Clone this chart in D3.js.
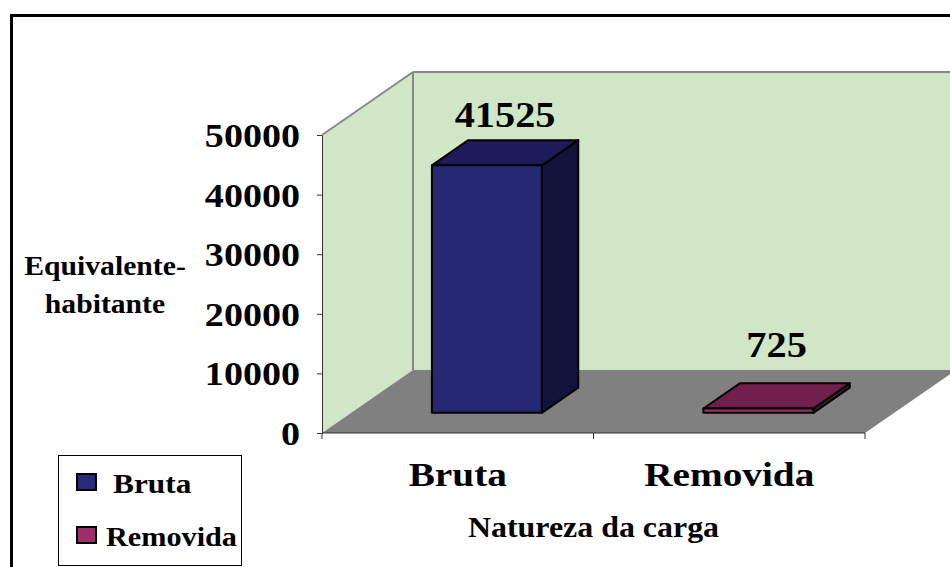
<!DOCTYPE html>
<html>
<head>
<meta charset="utf-8">
<script src="https://cdn.jsdelivr.net/npm/d3@7"></script>
<style>
  body { margin: 0; background: #fff; }
  svg text { font-family: "Liberation Serif", "Times New Roman", serif; font-weight: bold; fill: #000; }
</style>
</head>
<body>
<div class="chart"></div>
<script>
// data
var categories = ["Bruta", "Removida"];
var values = [41525, 725];
var yTicks = [0, 10000, 20000, 30000, 40000, 50000];

var frontColors = ["#262873", "#9c2d68"];
var topColors = ["#1d1c5a", "#70204a"];
var sideColors = ["#12123c", "#4e1632"];
var legendColors = ["#2a2a7a", "#9a3068"];

var width = 950, height = 567;
var depth = {dx: 91, dy: -63};     // depth of the 3d box
var barDepth = [0.32, 0.72];       // bar front / back as a fraction of the depth
var stretch = 1.12;                // text in the reference is a bit wide

var svg = d3.select(".chart").append("svg")
    .attr("width", width)
    .attr("height", height);

var x = d3.scaleBand().domain(categories).range([322, 865]).padding(0);
var y = d3.scaleLinear().domain([0, 50000]).range([433, 135]);

var x0 = x.range()[0], x1 = x.range()[1];
var yTop = y(50000), yBase = y(0);

//outer frame
svg.append("rect")
   .attr("x", 11.5).attr("y", 15.5)
   .attr("width", 1000).attr("height", 700)
   .attr("fill", "none").attr("stroke", "#000").attr("stroke-width", 3);

var pt = function(px, py, f) { return [px + depth.dx * f, py + depth.dy * f]; };
var poly = function(points) { return points.map(function(p) { return p.join(","); }).join(" "); };

//walls and floor
svg.append("polygon")
   .attr("points", poly([pt(x0, yTop, 1), pt(x1 + 200, yTop, 1), pt(x1 + 200, yBase, 1), pt(x0, yBase, 1)]))
   .attr("fill", "#d0e6c6");
svg.append("polygon")
   .attr("points", poly([[x0, yTop], pt(x0, yTop, 1), pt(x0, yBase, 1), [x0, yBase]]))
   .attr("fill", "#d0e6c6");
svg.append("polygon")
   .attr("points", poly([[x0, yBase], [x1, yBase], pt(x1, yBase, 1), pt(x0, yBase, 1)]))
   .attr("fill", "#808080");

//grey edges of the walls
var edges = [
  [[x0, yTop], pt(x0, yTop, 1)],
  [pt(x0, yTop, 1), pt(x1 + 200, yTop, 1)],
  [pt(x0, yTop, 1), pt(x0, yBase, 1)]
];
svg.append("g").selectAll("line").data(edges).enter().append("line")
   .attr("x1", function(d) { return d[0][0]; }).attr("y1", function(d) { return d[0][1]; })
   .attr("x2", function(d) { return d[1][0]; }).attr("y2", function(d) { return d[1][1]; })
   .attr("stroke", "#888").attr("stroke-width", 2);

//y axis
var yAxis = d3.axisLeft(y).tickValues(yTicks).tickFormat(d3.format("d"))
              .tickSize(5).tickSizeOuter(0).tickPadding(17);
var gy = svg.append("g").attr("transform", "translate(" + x0 + ",0)").call(yAxis);
gy.select(".domain").attr("stroke", "#333");
gy.selectAll(".tick line").attr("stroke", "#333");
gy.selectAll(".tick text")
  .attr("font-size", 34).attr("font-family", null).attr("dy", "0.34em")
  .attr("transform", "scale(" + stretch + ",1)")
  .attr("x", -22 / stretch);

//x axis: ticks at the band edges, labels in the middle
var gx = svg.append("g");
gx.append("line").attr("x1", x0).attr("x2", x1).attr("y1", yBase).attr("y2", yBase).attr("stroke", "#333");
gx.selectAll(".xtick").data(categories.map(function(c) { return x(c); }).concat([x1]))
  .enter().append("line")
  .attr("x1", function(d) { return d; }).attr("x2", function(d) { return d; })
  .attr("y1", yBase).attr("y2", yBase + 6).attr("stroke", "#333");

var stretchedText = function(g, tx, ty, size, txt, sx) {
  return g.append("text")
    .attr("transform", "translate(" + tx + "," + ty + ") scale(" + (sx || stretch) + ",1)")
    .attr("text-anchor", "middle")
    .attr("font-size", size)
    .text(txt);
};

categories.forEach(function(c) {
  stretchedText(svg, x(c) + x.bandwidth() / 2, 486, 33, c, 1.19);
});
stretchedText(svg, (x0 + x1) / 2, 537, 28.5, "Natureza da carga");
stretchedText(svg, 105, 275, 26.5, "Equivalente-");
stretchedText(svg, 105, 313, 26.5, "habitante");

//bars
var barW = x.bandwidth() * 0.405;
var bars = svg.append("g").selectAll("g").data(values).enter().append("g");

bars.each(function(v, i) {
  var g = d3.select(this);
  var cx = x(categories[i]) + x.bandwidth() / 2;
  var l = cx - barW / 2, r = cx + barW / 2;
  var yt = y(v);
  var fA = barDepth[0], fB = barDepth[1];
  var front = [pt(l, yt, fA), pt(r, yt, fA), pt(r, yBase, fA), pt(l, yBase, fA)];
  var top = [pt(l, yt, fA), pt(l, yt, fB), pt(r, yt, fB), pt(r, yt, fA)];
  var side = [pt(r, yt, fA), pt(r, yt, fB), pt(r, yBase, fB), pt(r, yBase, fA)];
  [[side, sideColors[i]], [top, topColors[i]], [front, frontColors[i]]].forEach(function(face) {
    g.append("polygon")
     .attr("points", poly(face[0]))
     .attr("fill", face[1])
     .attr("stroke", "#000")
     .attr("stroke-width", 2)
     .attr("stroke-linejoin", "round");
  });
  var mid = pt(cx, yt, (fA + fB) / 2);
  stretchedText(g, mid[0], mid[1] - (i === 0 ? 26 : 39), 36, v);
});

//legend
var legend = svg.append("g");
legend.append("rect")
  .attr("x", 58.5).attr("y", 455.5).attr("width", 183).attr("height", 110)
  .attr("fill", "#fff").attr("stroke", "#000").attr("stroke-width", 1);

var items = legend.selectAll("g").data(categories).enter().append("g");
items.append("rect")
  .attr("x", 77).attr("y", function(d, i) { return 474 + i * 53; })
  .attr("width", 19).attr("height", 16)
  .attr("fill", function(d, i) { return legendColors[i]; })
  .attr("stroke", "#000").attr("stroke-width", 2);
items.append("text")
  .attr("transform", function(d, i) {
    return "translate(" + (i === 0 ? 113 : 106) + "," + (493 + i * 53) + ") scale(" + stretch + ",1)";
  })
  .attr("font-size", function(d, i) { return i === 0 ? 28 : 27; })
  .text(function(d) { return d; });
</script>
</body>
</html>
